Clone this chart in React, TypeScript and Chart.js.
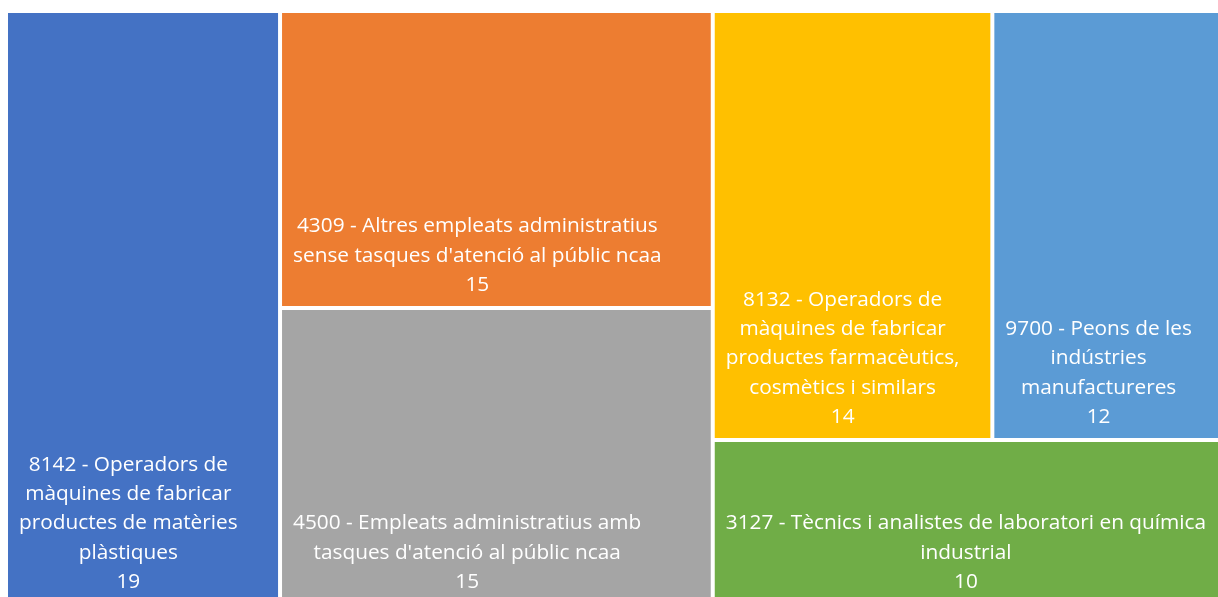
import React, { useEffect, useRef } from "react";
import { Chart, registerables } from "chart.js";

Chart.register(...registerables);

const categories = [
  "8142 - Operadors de\nmàquines de fabricar\nproductes de matèries\nplàstiques",
  "4309 - Altres empleats administratius\nsense tasques d'atenció al públic ncaa",
  "4500 - Empleats administratius amb\ntasques d'atenció al públic ncaa",
  "8132 - Operadors de\nmàquines de fabricar\nproductes farmacèutics,\ncosmètics i similars",
  "9700 - Peons de les\nindústries\nmanufactureres",
  "3127 - Tècnics i analistes de laboratori en química\nindustrial",
];
const values = [19, 15, 15, 14, 12, 10];
const colors = ["#4472C4", "#ED7D31", "#A5A5A5", "#FFC000", "#5B9BD5", "#70AD47"];

const TOTAL = values.reduce((a, b) => a + b, 0);

type Rect = { x0: number; x1: number; y0: number; y1: number; i: number };

// Treemap layout in data units: x in [0, TOTAL], y in [0, 1]
function layout(): Rect[] {
  const rects: Rect[] = [];
  let x = 0;
  const w0 = values[0];
  rects.push({ x0: x, x1: x + w0, y0: 0, y1: 1, i: 0 });
  x += w0;
  const w1 = values[1] + values[2];
  let y = 0;
  for (const i of [1, 2]) {
    const h = values[i] / w1;
    rects.push({ x0: x, x1: x + w1, y0: y, y1: y + h, i });
    y += h;
  }
  const xStart = x + w1;
  const w2 = values[3] + values[4] + values[5];
  const topH = (values[3] + values[4]) / w2;
  let xx = xStart;
  for (const i of [3, 4]) {
    const w = (values[i] / (values[3] + values[4])) * w2;
    rects.push({ x0: xx, x1: xx + w, y0: 0, y1: topH, i });
    xx += w;
  }
  rects.push({ x0: xStart, x1: xStart + w2, y0: topH, y1: 1, i: 5 });
  return rects;
}

const FONT = "20.8px 'Open Sans'";
const LINE_H = 29.3;

const treemapPlugin = {
  id: "treemapCells",
  afterDatasetsDraw(chart: any) {
    const ctx = chart.ctx as CanvasRenderingContext2D;
    const xs = chart.scales.x;
    const ys = chart.scales.y;
    const rects = layout();
    ctx.save();
    for (const r of rects) {
      const px0 = xs.getPixelForValue(r.x0);
      const px1 = xs.getPixelForValue(r.x1);
      const py0 = ys.getPixelForValue(r.y0);
      const py1 = ys.getPixelForValue(r.y1);
      const l = Math.min(px0, px1) + 2;
      const rt = Math.max(px0, px1) - 2;
      const t = Math.min(py0, py1) + 2;
      const b = Math.max(py0, py1) - 2;
      ctx.fillStyle = colors[r.i];
      ctx.fillRect(l, t, rt - l, b - t);

      const lines = categories[r.i].split("\n").concat(String(values[r.i]));
      ctx.font = FONT;
      ctx.fillStyle = "#FFFFFF";
      ctx.textAlign = "center";
      ctx.textBaseline = "middle";
      let maxW = 0;
      for (const ln of lines) maxW = Math.max(maxW, ctx.measureText(ln).width);
      const cx = l + 11 + maxW / 2;
      const lastC = b - 21;
      lines.forEach((ln, k) => {
        ctx.fillText(ln, cx, lastC - (lines.length - 1 - k) * LINE_H);
      });
    }
    ctx.restore();
  },
};

export default function App() {
  const ref = useRef<HTMLCanvasElement | null>(null);
  useEffect(() => {
    if (!ref.current) return;
    const chart = new Chart(ref.current, {
      type: "scatter",
      data: { datasets: [{ label: "treemap", data: [] }] },
      options: {
        animation: false,
        responsive: false,
        layout: { padding: { left: 6, top: 11, right: 8, bottom: 5 } },
        plugins: { legend: { display: false }, tooltip: { enabled: false } },
        scales: {
          x: { type: "linear", min: 0, max: TOTAL, display: false },
          y: { type: "linear", min: 0, max: 1, reverse: true, display: false },
        },
      },
      plugins: [treemapPlugin],
    });
    return () => chart.destroy();
  }, []);
  return (
    <div style={{ position: "fixed", left: 0, top: 0, width: 1218, height: 597, overflow: "hidden", background: "#fff" }}>
      <canvas ref={ref} width={1240} height={610} style={{ display: "block" }} />
    </div>
  );
}
